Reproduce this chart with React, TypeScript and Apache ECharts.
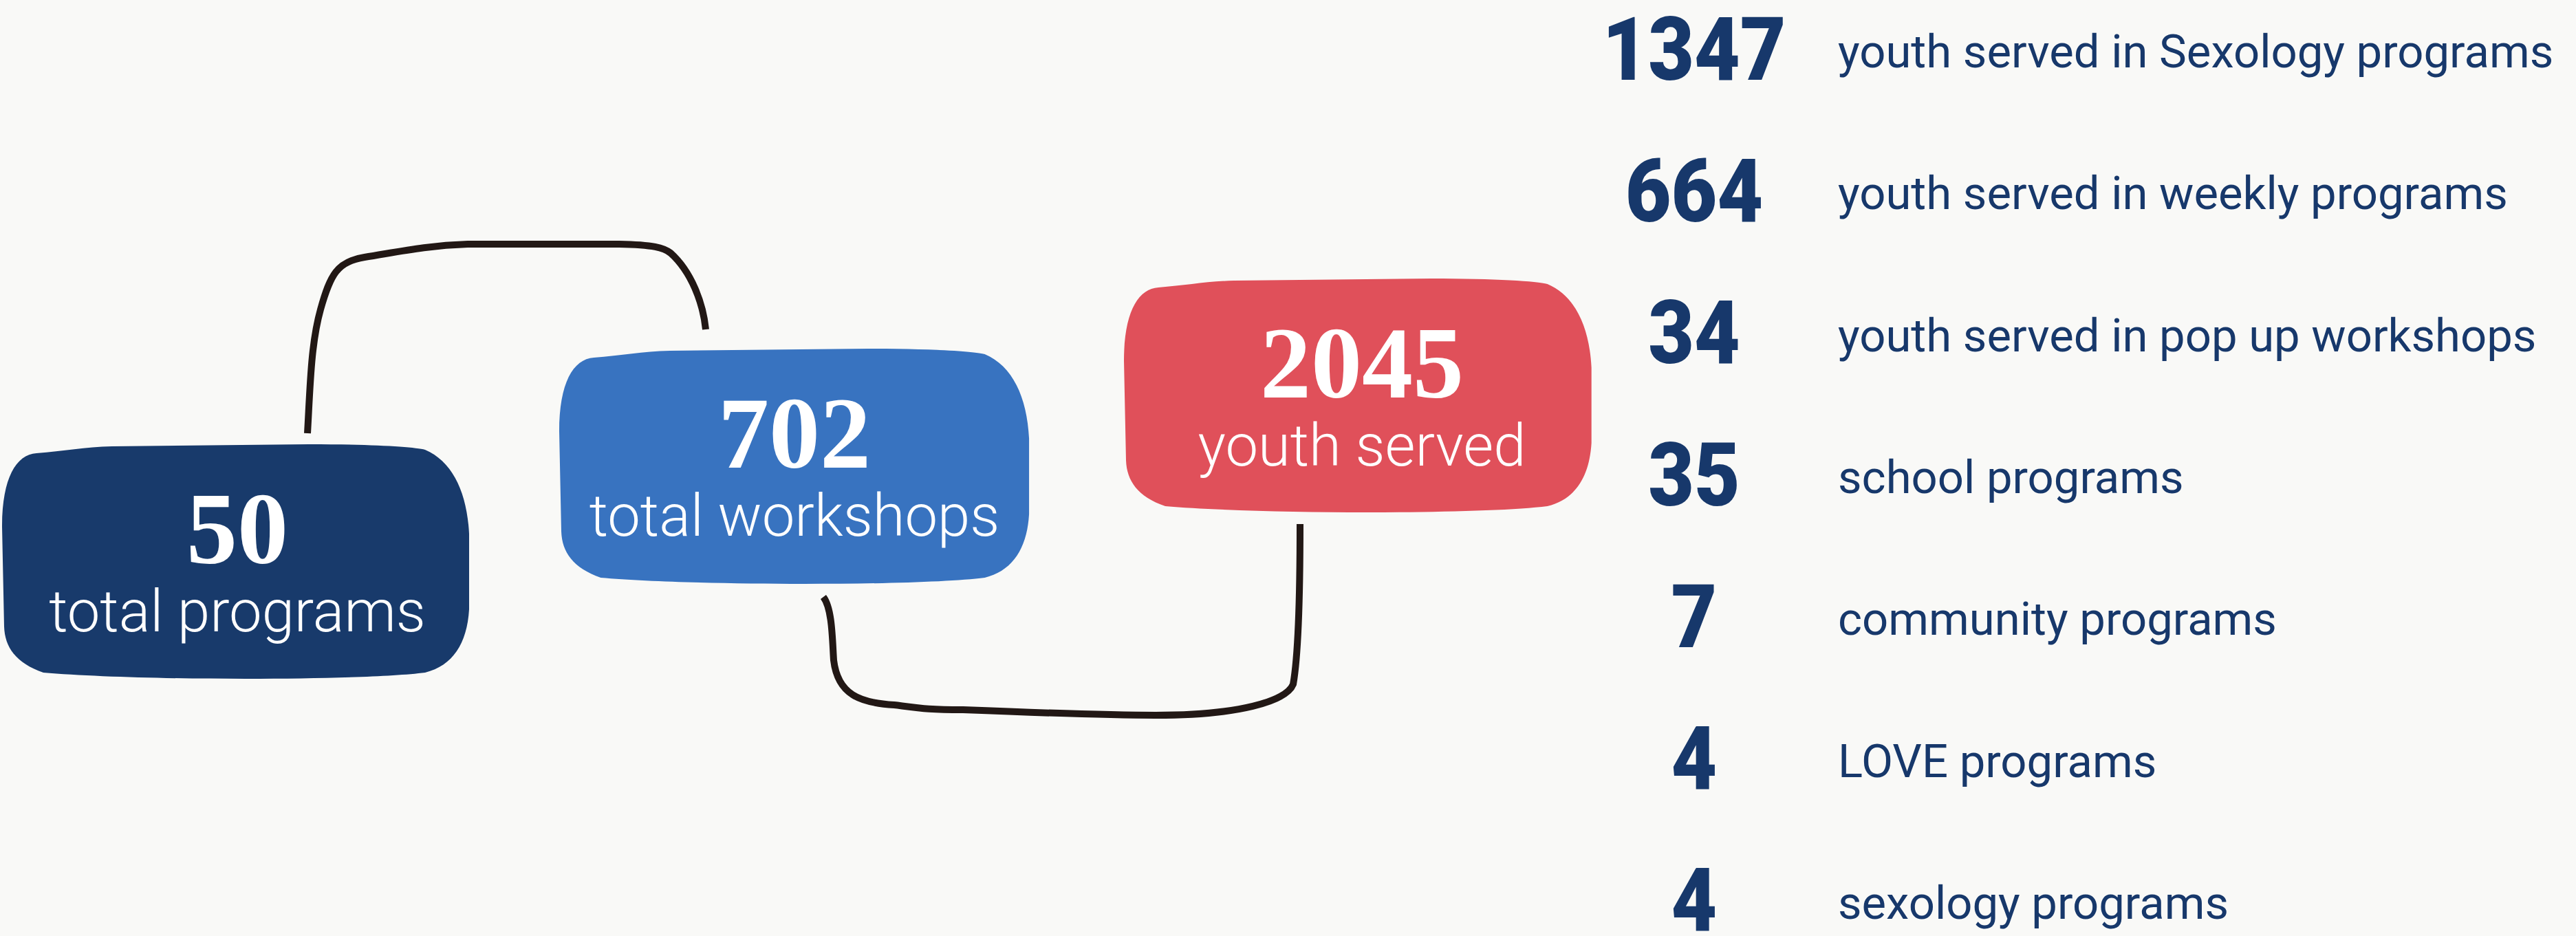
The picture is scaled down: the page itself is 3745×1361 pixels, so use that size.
import React, { useEffect, useRef } from "react";
import * as echarts from "echarts";

const W = 3745;
const H = 1361;

// ---- data ----
const boxValues = [50, 702, 2045];
const boxLabels = ["total programs", "total workshops", "youth served"];
const statValues = [1347, 664, 34, 35, 7, 4, 4];
const statLabels = [
  "youth served in Sexology programs",
  "youth served in weekly programs",
  "youth served in pop up workshops",
  "school programs",
  "community programs",
  "LOVE programs",
  "sexology programs",
];

// ---- layout / style ----
const BG = "#F9F9F7";
const boxColors = ["#183A6B", "#3873C0", "#E0505A"];
const boxRects = [
  { x: 3, y: 646, w: 680, h: 342, cx: 345 },
  { x: 813, y: 507, w: 684, h: 343, cx: 1155 },
  { x: 1634, y: 405, w: 681, h: 341, cx: 1980 },
];
const NAVY = "#17386B";
const LINE = "#221815";

const BLOB =
  "M 50 13 C 90 10 120 4 160 3 L 446 0 C 540 0 600 4 615 8 C 655 25 676 70 679 130 L 679 240 C 676 290 655 322 615 332 C 520 344 200 344 60 332 C 20 318 4 295 3 265 L 0 120 C 0 50 20 15 50 13 Z";
const LINK1 =
  "M 447 630 C 451 560 452 500 466 450 C 480 400 490 380 530 374 C 580 366 620 357 680 355 L 900 355 C 950 356 965 360 975 368 C 1005 395 1022 440 1026 479";
const LINK2 =
  "M 1197 868 C 1210 885 1210 930 1212 960 C 1218 1010 1250 1022 1300 1025 C 1340 1030 1350 1032 1400 1032 C 1500 1036 1600 1040 1680 1040 C 1800 1040 1870 1020 1880 995 C 1888 950 1890 850 1890 762";

const ROW0 = 72;
const ROW_STEP = 206.3;
const NUM_CX = 2463;
const LABEL_X = 2672;

export default function App() {
  const ref = useRef<HTMLDivElement>(null);
  useEffect(() => {
    document.body.style.margin = "0";
    echarts.graphic.registerShape("blob", echarts.graphic.extendPath(BLOB, {}));
    echarts.graphic.registerShape("link1", echarts.graphic.extendPath(LINK1, {}));
    echarts.graphic.registerShape("link2", echarts.graphic.extendPath(LINK2, {}));
    const chart = echarts.init(ref.current!, null, { renderer: "svg" });

    const elements: any[] = [];
    const lineStyle = { fill: null, stroke: LINE, lineWidth: 10, lineCap: "butt", lineJoin: "round" };
    elements.push({ type: "link1", x: 0, y: 0, style: lineStyle });
    elements.push({ type: "link2", x: 0, y: 0, style: lineStyle });

    boxValues.forEach((v, i) => {
      const r = boxRects[i];
      elements.push({
        type: "blob",
        x: r.x,
        y: r.y,
        scaleX: r.w / 680,
        scaleY: r.h / 342,
        style: { fill: boxColors[i] },
      });
      elements.push({
        type: "text",
        x: r.cx,
        y: r.y + 123,
        style: {
          text: String(v),
          fill: "#FFFFFF",
          fontFamily: "Liberation Serif",
          fontWeight: "bold",
          fontSize: 148,
          lineHeight: 120,
          align: "center",
          textAlign: "center",
          verticalAlign: "middle",
          textVerticalAlign: "middle",
        },
      });
      elements.push({
        type: "text",
        x: r.cx,
        y: r.y + 243,
        style: {
          text: boxLabels[i],
          fill: "#FFFFFF",
          fontFamily: "Roboto",
          fontWeight: 300,
          fontSize: 85,
          lineHeight: 90,
          align: "center",
          textAlign: "center",
          verticalAlign: "middle",
          textVerticalAlign: "middle",
        },
      });
    });

    statValues.forEach((v, i) => {
      const cy = ROW0 + ROW_STEP * i;
      elements.push({
        type: "text",
        x: NUM_CX,
        y: cy,
        scaleX: 0.9,
        style: {
          text: String(v),
          fill: NAVY,
          fontFamily: "Roboto",
          fontWeight: 900,
          fontSize: 128,
          lineHeight: 100,
          align: "center",
          textAlign: "center",
          verticalAlign: "middle",
          textVerticalAlign: "middle",
        },
      });
      elements.push({
        type: "text",
        x: LABEL_X,
        y: cy + 3,
        style: {
          text: statLabels[i],
          fill: NAVY,
          fontFamily: "Roboto",
          fontWeight: 400,
          fontSize: 67,
          lineHeight: 76,
          align: "left",
          textAlign: "left",
          verticalAlign: "middle",
          textVerticalAlign: "middle",
        },
      });
    });

    chart.setOption({
      animation: false,
      backgroundColor: BG,
      graphic: { elements },
    });
    return () => chart.dispose();
  }, []);
  return <div ref={ref} style={{ width: W, height: H }} />;
}
